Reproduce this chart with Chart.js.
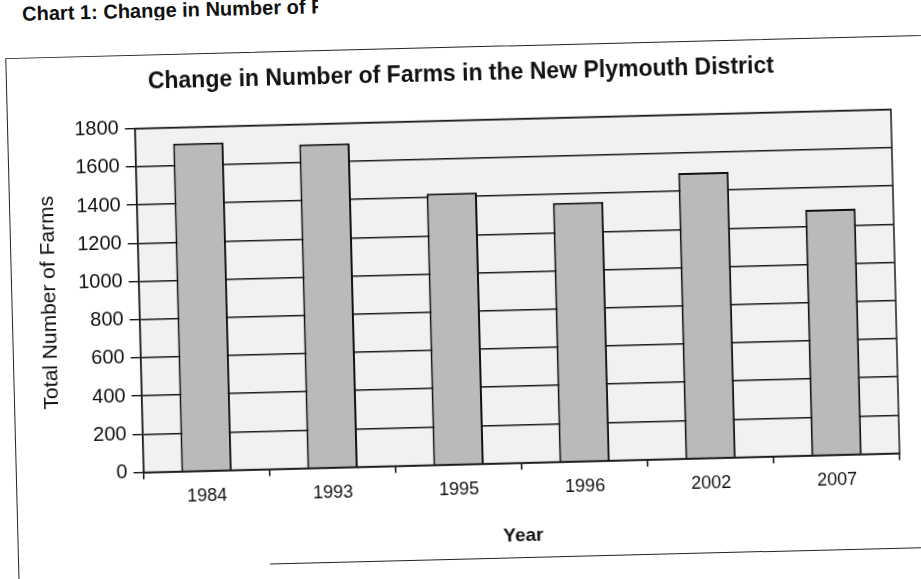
<!DOCTYPE html>
<html>
<head>
<meta charset="utf-8">
<script src="https://cdn.jsdelivr.net/npm/chart.js@4.4.1/dist/chart.umd.min.js"></script>
<style>
  html, body { margin: 0; padding: 0; background: #fff; overflow: hidden; }
  #page {
    position: relative; width: 921px; height: 579px;
    transform: rotate(-1.45deg); transform-origin: 135px 480px;
    font-family: "Liberation Sans", Arial, sans-serif; color: #111;
  }
  #caption {
    position: absolute; left: 34px; top: 1px; width: 296px; overflow: hidden;
    white-space: nowrap; font-size: 20px; font-weight: bold; line-height: 20px;
  }
  #frame {
    position: absolute; left: 16px; top: 55px; width: 1000px; height: 620px;
    border: 1.5px solid #222;
  }
  #rule {
    position: absolute; left: 268px; top: 567px; width: 760px; height: 0;
    border-top: 1.5px solid #222;
  }
  #wrap { position: absolute; left: 0; top: 55px; width: 921px; height: 524px; }
</style>
</head>
<body>
<div id="page">
  <div id="caption">Chart 1:  Change in Number of Farms in the New Plymouth District</div>
  <div id="frame"></div>
  <div id="rule"></div>
  <div id="wrap"><canvas id="farms-chart"></canvas></div>
</div>
<script>
///// data /////
const years = ['1984', '1993', '1995', '1996', '2002', '2007'];
const farms = [1715, 1695, 1420, 1355, 1495, 1285];
const yTicks = [0, 200, 400, 600, 800, 1000, 1200, 1400, 1600, 1800];

const font = '"Liberation Sans", Arial, sans-serif';

// light plot background + border round the plot area
const plotBox = {
  id: 'plotBox',
  beforeDraw(chart) {
    const { ctx, chartArea: a } = chart;
    ctx.save();
    ctx.fillStyle = '#f1f1f1';
    ctx.fillRect(a.left, a.top, a.right - a.left, a.bottom - a.top);
    ctx.restore();
  },
  afterDraw(chart) {
    const { ctx, chartArea: a } = chart;
    ctx.save();
    ctx.strokeStyle = '#1a1a1a';
    ctx.lineWidth = 1.5;
    ctx.strokeRect(a.left, a.top, a.right - a.left, a.bottom - a.top);
    ctx.restore();
  }
};

const config = {
  type: 'bar',
  data: {
    labels: years,
    datasets: [{
      label: 'Total Number of Farms',
      data: farms,
      backgroundColor: '#bababa',
      borderColor: '#111',
      borderWidth: 2,
      barPercentage: 0.4,
      categoryPercentage: 1
    }]
  },
  options: {
    responsive: false,
    animation: false,
    layout: { padding: { left: 42, right: 21, top: 0, bottom: 22 } },
    plugins: {
      legend: { display: false },
      tooltip: { enabled: false },
      title: {
        display: true,
        text: 'Change in Number of Farms in the New Plymouth District',
        color: '#111',
        font: { family: font, size: 23, weight: 'bold' },
        padding: { top: 14, bottom: 32 }
      }
    },
    scales: {
      x: {
        offset: true,
        grid: { display: true, drawOnChartArea: false, drawTicks: true, tickLength: 7, color: '#111', lineWidth: 1.5, offset: true },
        border: { display: true, color: '#111', width: 1.5 },
        ticks: { color: '#111', font: { family: font, size: 18 }, padding: 8 },
        title: {
          display: true, text: 'Year', color: '#111',
          font: { family: font, size: 19, weight: 'bold' },
          padding: { top: 17, bottom: 0 }
        }
      },
      y: {
        min: 0,
        max: 1800,
        afterBuildTicks(scale) { scale.ticks = yTicks.map(v => ({ value: v })); },
        grid: { color: '#1a1a1a', lineWidth: 1.4, tickLength: 10 },
        border: { display: true, color: '#111', width: 1.5 },
        ticks: {
          color: '#111', font: { family: font, size: 20 }, padding: 6,
          callback: v => String(v)
        },
        title: {
          display: true, text: 'Total Number of Farms', color: '#111',
          font: { family: font, size: 21 },
          padding: { top: 0, bottom: 10 }
        }
      }
    }
  },
  plugins: [plotBox]
};

const canvas = document.getElementById('farms-chart');
canvas.width = 921;
canvas.height = 524;
canvas.style.width = '921px';
canvas.style.height = '524px';

let farmsChart = new Chart(canvas, config);
</script>
</body>
</html>
